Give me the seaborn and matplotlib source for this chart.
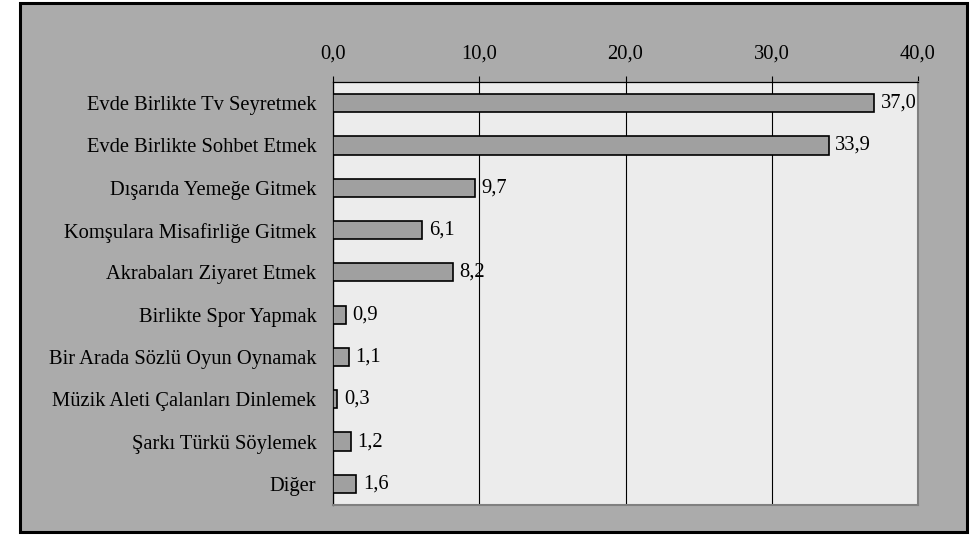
import numpy as np
import pandas as pd
import matplotlib
matplotlib.use("Agg")
import matplotlib.pyplot as plt
import seaborn as sns
from matplotlib.patches import Rectangle
from matplotlib.ticker import FuncFormatter

# veriler
kategoriler = ['Evde Birlikte Tv Seyretmek', 'Evde Birlikte Sohbet Etmek', 'Dışarıda Yemeğe Gitmek',
               'Komşulara Misafirliğe Gitmek', 'Akrabaları Ziyaret Etmek', 'Birlikte Spor Yapmak',
               'Bir Arada Sözlü Oyun Oynamak', 'Müzik Aleti Çalanları Dinlemek', 'Şarkı Türkü Söylemek', 'Diğer']
yuzdeler = [37.0, 33.9, 9.7, 6.1, 8.2, 0.9, 1.1, 0.3, 1.2, 1.6]
x_ticks = [0, 10, 20, 30, 40]

df = pd.DataFrame({'kategori': kategoriler, 'yuzde': yuzdeler})

sns.set_style('white')
plt.rcParams['font.family'] = ['Liberation Serif', 'DejaVu Serif']
plt.rcParams['text.color'] = 'black'
plt.rcParams['xtick.color'] = 'black'
plt.rcParams['ytick.color'] = 'black'

fig = plt.figure(figsize=(9.77, 5.35), dpi=100)
fig.patch.set_facecolor('white')
# dış çerçeve
cerceve = Rectangle((20 / 977, 1 - 532 / 535), 947 / 977, 529 / 535, transform=fig.transFigure,
                    facecolor='#ababab', edgecolor='black', linewidth=2.2, zorder=-10)
fig.add_artist(cerceve)

ax = fig.add_axes([333 / 977, 1 - 505 / 535, 585 / 977, 423 / 535])
ax.set_zorder(1)
ax.set_facecolor('#ececec')

sns.barplot(data=df, x='yuzde', y='kategori', orient='h', color='#a0a0a0', edgecolor='black',
            linewidth=1.2, width=0.43, saturation=1, ax=ax, zorder=3)

fs = 14.8
ax.set_xlim(0, 40)
ax.set_ylim(9.5, -0.5)
ax.set_xticks(x_ticks)
ax.xaxis.set_major_formatter(FuncFormatter(lambda v, p: f'{v:.1f}'.replace('.', ',')))
ax.xaxis.tick_top()
ax.tick_params(axis='x', which='major', direction='out', length=4, width=0.8, color='black',
               labelsize=fs, labelcolor='black', pad=9)
ax.grid(axis='x', color='black', linewidth=0.8, zorder=1)

ax.set_yticks(range(len(kategoriler)))
ax.set_yticklabels(kategoriler)
ax.set_yticks(np.arange(-0.5, len(kategoriler), 1), minor=True)
ax.tick_params(axis='y', which='major', length=0, labelsize=fs, labelcolor='black', pad=12)
ax.tick_params(axis='y', which='minor', direction='out', length=5, width=0.8, color='black')
ax.set_xlabel('')
ax.set_ylabel('')

for s in ['left', 'top']:
    ax.spines[s].set_color('black')
    ax.spines[s].set_linewidth(0.9)
for s in ['right', 'bottom']:
    ax.spines[s].set_color('#808080')
    ax.spines[s].set_linewidth(1.5)

for i, v in enumerate(yuzdeler):
    ax.text(v + 0.45, i, f'{v:.1f}'.replace('.', ','), va='center', ha='left', fontsize=fs,
            color='black', zorder=4)

plt.savefig('out.png', dpi=100)
